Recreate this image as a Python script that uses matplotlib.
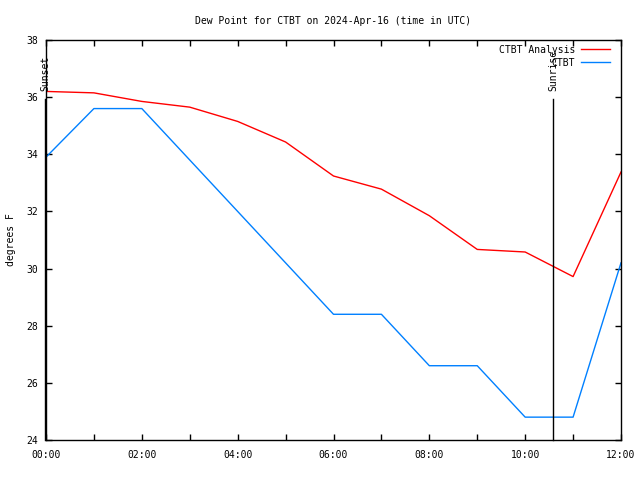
import matplotlib
matplotlib.use("Agg")
import matplotlib.pyplot as plt
from matplotlib.ticker import FixedLocator, FuncFormatter

hours = [0, 1, 2, 3, 4, 5, 6, 7, 8, 9, 10, 11, 12]
analysis_dewpoint = [36.2, 36.15, 35.85, 35.65, 35.15, 34.43, 33.24, 32.78, 31.85, 30.67, 30.58, 29.72, 33.38]
observed_dewpoint = [33.9, 35.6, 35.6, 33.8, 32.0, 30.2, 28.4, 28.4, 26.6, 26.6, 24.8, 24.8, 30.2]
sunset_hour = -0.02
sunrise_hour = 10.58
tick_hours = [0, 2, 4, 6, 8, 10, 12]
y_ticks = [24, 26, 28, 30, 32, 34, 36, 38]

plt.rcParams["font.family"] = ["DejaVu Sans Mono"]
plt.rcParams["font.size"] = 7

fig = plt.figure(figsize=(6.4, 4.8), dpi=100)
ax = fig.add_axes([46 / 640, 40 / 480, 575 / 640, 400 / 480])

ax.plot(hours, analysis_dewpoint, color="#ff0000", lw=1, label="CTBT Analysis")
ax.plot(hours, observed_dewpoint, color="#0080ff", lw=1, label="CTBT")

for when, name in ((sunset_hour, "Sunset"), (sunrise_hour, "Sunrise")):
    ax.plot([when, when], [24, 35.95], color="black", lw=1, clip_on=False)
    ax.text(when, 36.2, name, rotation=90, ha="center", va="bottom", fontsize=7)

ax.set_xlim(0, 12)
ax.set_ylim(24, 38)
ax.xaxis.set_major_locator(FixedLocator(tick_hours))
ax.xaxis.set_minor_locator(FixedLocator(hours))
ax.xaxis.set_major_formatter(FuncFormatter(lambda v, _: "%02d:00" % int(round(v))))
ax.yaxis.set_major_locator(FixedLocator(y_ticks))
ax.tick_params(which="both", direction="in", top=True, right=True, length=4, width=1, pad=6)
ax.tick_params(axis="x", pad=7.5)
for spine in ax.spines.values():
    spine.set_linewidth(1)

ax.set_title("Dew Point for CTBT on 2024-Apr-16 (time in UTC)", fontsize=7, pad=11.8)
ax.set_ylabel("degrees F", labelpad=7)

leg = ax.legend(loc="upper right", bbox_to_anchor=(1 - 6 / 575, 1), frameon=False,
                markerfirst=False, handlelength=3.0, handletextpad=0.6,
                borderaxespad=0.1, borderpad=0.4, labelspacing=0.3, fontsize=7)

fig.savefig("out.png", dpi=100)
